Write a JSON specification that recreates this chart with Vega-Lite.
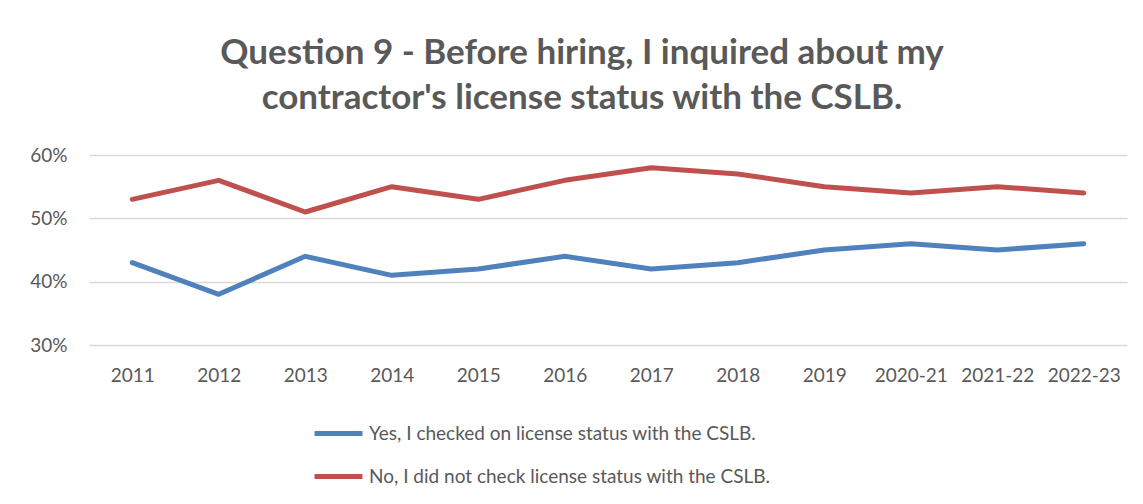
{
  "$schema": "https://vega.github.io/schema/vega-lite/v6.json",
  "autosize": {"type": "none"},
  "padding": {"left": 89, "top": 155, "right": 16, "bottom": 159},
  "width": 1038,
  "height": 190,
  "background": "white",
  "title": {
    "text": ["Question 9 - Before hiring, I inquired about my", "contractor's license status with the CSLB."],
    "font": "Lato",
    "fontSize": 35,
    "fontWeight": "bold",
    "color": "#595959",
    "anchor": "middle",
    "frame": "group",
    "dx": -26,
    "offset": 30,
    "lineHeight": 45
  },
  "data": {
    "values": [
      {"year": "2011", "series": "Yes, I checked on license status with the CSLB.", "pct": 0.43},
      {"year": "2012", "series": "Yes, I checked on license status with the CSLB.", "pct": 0.38},
      {"year": "2013", "series": "Yes, I checked on license status with the CSLB.", "pct": 0.44},
      {"year": "2014", "series": "Yes, I checked on license status with the CSLB.", "pct": 0.41},
      {"year": "2015", "series": "Yes, I checked on license status with the CSLB.", "pct": 0.42},
      {"year": "2016", "series": "Yes, I checked on license status with the CSLB.", "pct": 0.44},
      {"year": "2017", "series": "Yes, I checked on license status with the CSLB.", "pct": 0.42},
      {"year": "2018", "series": "Yes, I checked on license status with the CSLB.", "pct": 0.43},
      {"year": "2019", "series": "Yes, I checked on license status with the CSLB.", "pct": 0.45},
      {"year": "2020-21", "series": "Yes, I checked on license status with the CSLB.", "pct": 0.46},
      {"year": "2021-22", "series": "Yes, I checked on license status with the CSLB.", "pct": 0.45},
      {"year": "2022-23", "series": "Yes, I checked on license status with the CSLB.", "pct": 0.46},
      {"year": "2011", "series": "No, I did not check license status with the CSLB.", "pct": 0.53},
      {"year": "2012", "series": "No, I did not check license status with the CSLB.", "pct": 0.56},
      {"year": "2013", "series": "No, I did not check license status with the CSLB.", "pct": 0.51},
      {"year": "2014", "series": "No, I did not check license status with the CSLB.", "pct": 0.55},
      {"year": "2015", "series": "No, I did not check license status with the CSLB.", "pct": 0.53},
      {"year": "2016", "series": "No, I did not check license status with the CSLB.", "pct": 0.56},
      {"year": "2017", "series": "No, I did not check license status with the CSLB.", "pct": 0.58},
      {"year": "2018", "series": "No, I did not check license status with the CSLB.", "pct": 0.57},
      {"year": "2019", "series": "No, I did not check license status with the CSLB.", "pct": 0.55},
      {"year": "2020-21", "series": "No, I did not check license status with the CSLB.", "pct": 0.54},
      {"year": "2021-22", "series": "No, I did not check license status with the CSLB.", "pct": 0.55},
      {"year": "2022-23", "series": "No, I did not check license status with the CSLB.", "pct": 0.54}
    ]
  },
  "mark": {"type": "line", "strokeWidth": 5, "strokeCap": "round", "strokeJoin": "round"},
  "encoding": {
    "x": {
      "field": "year",
      "type": "ordinal",
      "sort": null,
      "scale": {"type": "point", "padding": 0.5},
      "axis": {
        "title": null,
        "labelAngle": 0,
        "labelFont": "Lato",
        "labelFontSize": 19,
        "labelColor": "#595959",
        "labelPadding": 21,
        "ticks": false,
        "domain": false,
        "grid": false
      }
    },
    "y": {
      "field": "pct",
      "type": "quantitative",
      "scale": {"domain": [0.3, 0.6], "nice": false, "zero": false},
      "axis": {
        "title": null,
        "format": ".0%",
        "values": [0.3, 0.4, 0.5, 0.6],
        "labelFont": "Lato",
        "labelFontSize": 19,
        "labelColor": "#595959",
        "labelPadding": 22,
        "ticks": false,
        "domain": false,
        "grid": true,
        "gridColor": "#d9d9d9",
        "gridWidth": 1.5
      }
    },
    "color": {
      "field": "series",
      "type": "nominal",
      "scale": {
        "domain": ["Yes, I checked on license status with the CSLB.", "No, I did not check license status with the CSLB."],
        "range": ["#4f81bd", "#c0504d"]
      },
      "legend": {
        "title": null,
        "orient": "none",
        "legendX": 223,
        "legendY": 252,
        "direction": "vertical",
        "symbolType": "stroke",
        "symbolSize": 2300,
        "symbolStrokeWidth": 5,
        "labelFont": "Lato",
        "labelFontSize": 19,
        "labelColor": "#595959",
        "labelOffset": 4,
        "rowPadding": 6,
        "labelLimit": 700
      }
    }
  },
  "config": {"view": {"stroke": null}}
}
